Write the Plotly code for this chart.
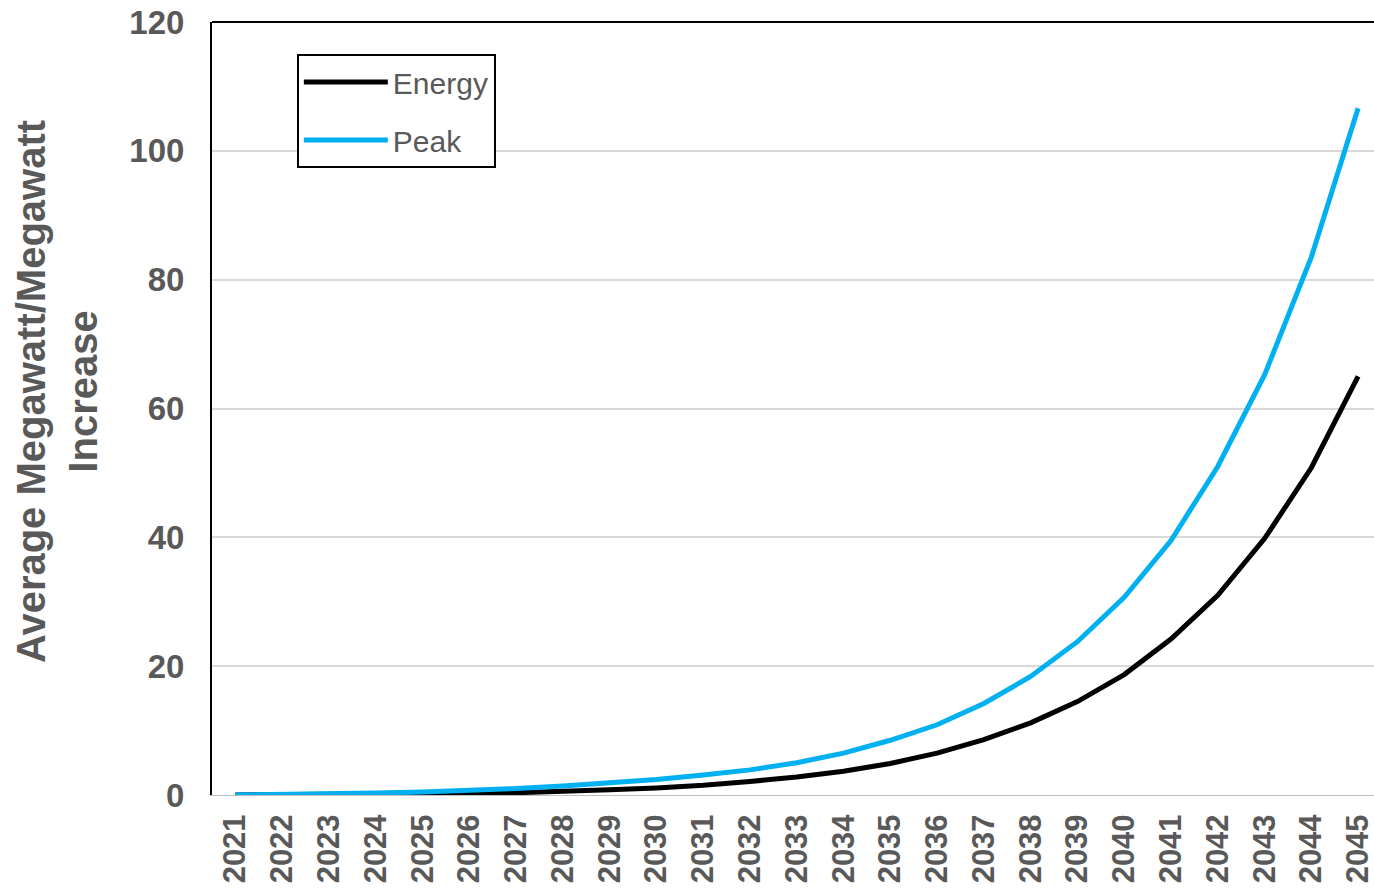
import plotly.graph_objects as go

years = list(range(2021, 2046))
year_labels = [str(y) for y in years]
energy = [0, 0.02, 0.05, 0.1, 0.15, 0.25, 0.35, 0.5, 0.8, 1.1, 1.5, 2.1, 2.8, 3.7, 4.9,
          6.5, 8.6, 11.2, 14.5, 18.7, 24.2, 31.0, 39.8, 50.8, 65.0]
peak = [0, 0.05, 0.15, 0.3, 0.45, 0.7, 1.0, 1.4, 1.9, 2.4, 3.1, 3.9, 5.0, 6.5, 8.5,
        10.9, 14.2, 18.4, 23.8, 30.7, 39.5, 51.0, 65.2, 83.5, 106.6]
y_ticks = [0, 20, 40, 60, 80, 100, 120]

GRAY = "#595959"
FONT = "Liberation Sans, Arial, sans-serif"

fig = go.Figure()
fig.add_trace(go.Scatter(x=years, y=energy, name="Energy", mode="lines",
                         line=dict(color="#000000", width=5), legendgroup="e"))
fig.add_trace(go.Scatter(x=years, y=peak, name="Peak", mode="lines",
                         line=dict(color="#00B0F0", width=5), legendgroup="p"))

fig.update_layout(
    width=1374, height=893,
    margin=dict(l=212, r=0, t=22, b=98),
    paper_bgcolor="white", plot_bgcolor="white",
    font=dict(family=FONT, color=GRAY),
    showlegend=True,
    legend=dict(
        x=0.073, y=0.9586, xanchor="left", yanchor="top",
        bgcolor="white", bordercolor="black", borderwidth=2,
        font=dict(size=30, color=GRAY, family=FONT),
        traceorder="grouped", tracegroupgap=16, itemwidth=84,
    ),
    xaxis=dict(
        range=[2020.5, 2045.34], automargin=False,
        tickmode="array", tickvals=years, ticktext=year_labels,
        tickangle=-90, ticks="", showgrid=False, zeroline=False,
        showline=True, linecolor="#BFBFBF", linewidth=1,
        tickfont=dict(size=31, color=GRAY, family=FONT, weight="bold"),
        ticklabelstandoff=6, ticklabeloverflow="allow",
    ),
    yaxis=dict(
        range=[0, 120], tickmode="array", tickvals=y_ticks, automargin=False,
        ticktext=[str(v) for v in y_ticks],
        ticks="", showgrid=True, gridcolor="#D9D9D9", gridwidth=2,
        zeroline=False,
        showline=True, linecolor="black", linewidth=2,
        tickfont=dict(size=33, color=GRAY, family=FONT, weight="bold"),
        ticklabelstandoff=19, ticklabeloverflow="allow",
    ),
    annotations=[dict(
        text="Average Megawatt/Megawatt<br>Increase", textangle=-90,
        xref="paper", yref="paper", x=-0.1334, y=0.5226,
        xanchor="center", yanchor="middle", showarrow=False,
        font=dict(size=40, color=GRAY, family=FONT, weight="bold"),
    )],
    shapes=[dict(type="line", xref="paper", yref="paper", x0=0, x1=1, y0=1, y1=1,
                 line=dict(color="black", width=2))],
)

fig.write_html(
    "out.html",
    config={"displayModeBar": False},
    post_script="document.body.style.margin='0';"
                "document.documentElement.style.overflow='hidden';",
)
